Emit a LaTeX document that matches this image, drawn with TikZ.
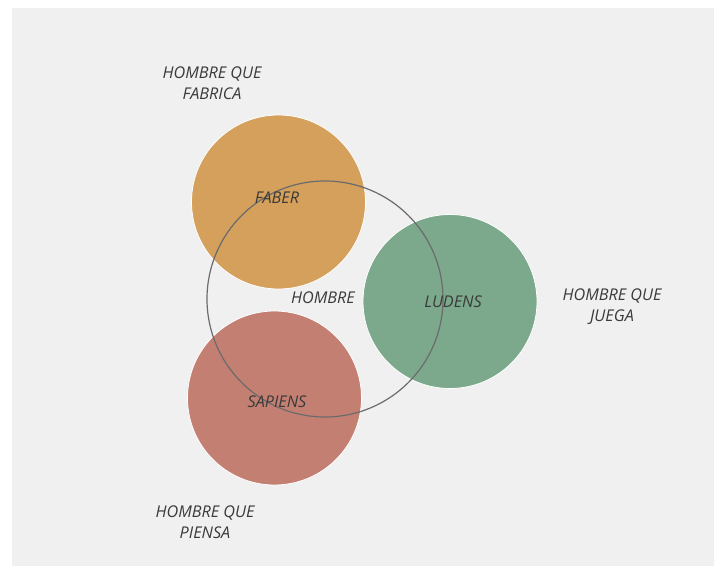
\documentclass[tikz,border=0pt]{standalone}
\usepackage{fontspec}
\setmainfont{Open Sans}
\definecolor{fondo}{HTML}{F0F0F0}
\definecolor{faberc}{HTML}{D4A05B}
\definecolor{ludensc}{HTML}{7CA98C}
\definecolor{sapiensc}{HTML}{C47F73}
\definecolor{texto}{HTML}{3A3A3A}
\definecolor{linea}{HTML}{6B6B6B}
\tikzset{
  esfera/.style={circle,minimum size=174pt,inner sep=0pt,draw=white,line width=0.8pt},
  etiqueta/.style={text=texto,font=\fontsize{16.2}{21}\selectfont\itshape,align=center,inner sep=0pt},
}

\begin{document}
\begin{tikzpicture}[x=1pt,y=-1pt]
        \useasboundingbox (0,0) rectangle (719,567);
        \fill[fondo] (12,8) rectangle (714,566);
        % los tres circulos
        \node[esfera,fill=faberc] (faber) at (278.5,202) {};
        \node[esfera,fill=ludensc] (ludens) at (450,301.5) {};
        \node[esfera,fill=sapiensc] (sapiens) at (274.5,398) {};
        % circulo central
        \node[circle,minimum size=236pt,inner sep=0pt,draw=linea,line width=1.2pt] (hombre) at (325,299) {};
        \node[etiqueta] (tfaber) at (277,198) {FABER};
        \node[etiqueta] (tludens) at (453,302) {LUDENS};
        \node[etiqueta] (tsapiens) at (277,402) {SAPIENS};
        \node[etiqueta] (thombre) at (323,298) {HOMBRE};
        \node[etiqueta] (qfabrica) at (212,83.5) {HOMBRE QUE\\FABRICA};
        \node[etiqueta] (qjuega) at (612,306.5) {HOMBRE QUE\\JUEGA};
        \node[etiqueta] (qpiensa) at (205,522.5) {HOMBRE QUE\\PIENSA};
\end{tikzpicture}
\end{document}
